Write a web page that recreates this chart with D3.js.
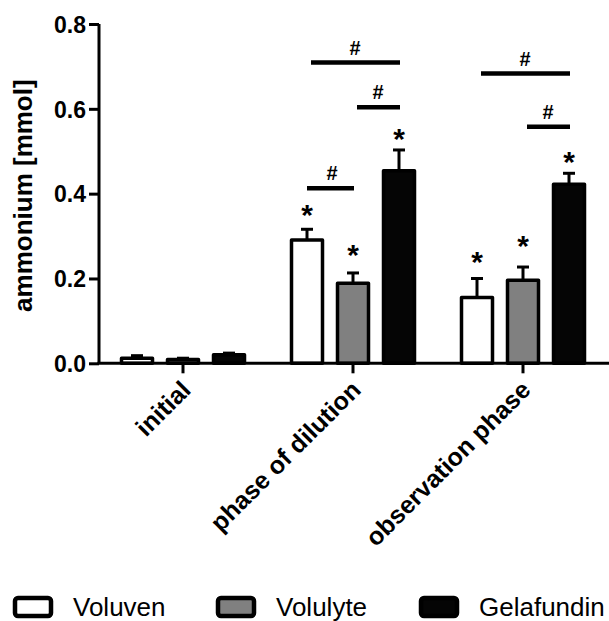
<!DOCTYPE html>
<html>
<head>
<meta charset="utf-8">
<script src="https://cdn.jsdelivr.net/npm/d3@7"></script>
<style>
  body { margin: 0; background: #fff; }
  svg { display: block; font-family: "Liberation Sans", Arial, sans-serif; }
</style>
</head>
<body>
<div id="chart"></div>
<script>
// Data
const categories = ["initial", "phase of dilution", "observation phase"];
const series = ["Voluven", "Volulyte", "Gelafundin"];
const fills = ["#ffffff", "#808080", "#050505"];

const voluven = [0.012, 0.291, 0.155];
const volulyte = [0.009, 0.189, 0.196];
const gelafundin = [0.020, 0.454, 0.422];

const voluvenErr = [0.006, 0.025, 0.045];
const volulyteErr = [0.003, 0.024, 0.031];
const gelafundinErr = [0.004, 0.049, 0.026];

const yTicks = [0, 0.2, 0.4, 0.6, 0.8];

// significance stars: [category, series, value of star centre]
const stars = [
  ["phase of dilution", "Voluven", 0.362],
  ["phase of dilution", "Volulyte", 0.266],
  ["phase of dilution", "Gelafundin", 0.541],
  ["observation phase", "Voluven", 0.251],
  ["observation phase", "Volulyte", 0.288],
  ["observation phase", "Gelafundin", 0.487]
];

// "#" brackets: [category, from series, to series, value]
const brackets = [
  ["phase of dilution", "Voluven", "Gelafundin", 0.709],
  ["phase of dilution", "Volulyte", "Gelafundin", 0.604],
  ["phase of dilution", "Voluven", "Volulyte", 0.413],
  ["observation phase", "Voluven", "Gelafundin", 0.683],
  ["observation phase", "Volulyte", "Gelafundin", 0.558]
];

const values = [voluven, volulyte, gelafundin];
const errors = [voluvenErr, volulyteErr, gelafundinErr];

const W = 609, H = 621;
const svg = d3.select("#chart").append("svg")
  .attr("width", W)
  .attr("height", H);

// scales
const x0 = d3.scaleBand().domain(categories).range([98, 608]);
const x1 = d3.scalePoint().domain(series).range([-46, 46]);
const y = d3.scaleLinear().domain([0, 0.8]).range([363.3, 24]);
const barW = 31;
const cx = (c, s) => x0(c) + x0.bandwidth() / 2 + x1(s);

// flatten bars
const bars = [];
series.forEach((s, si) => {
  categories.forEach((c, ci) => {
    bars.push({ c, s, v: values[si][ci], e: errors[si][ci], fill: fills[si] });
  });
});

// error bars (upper only)
const eg = svg.append("g").attr("stroke", "#000").attr("stroke-width", 3);
eg.selectAll("line.stem")
  .data(bars)
  .join("line")
  .attr("class", "stem")
  .attr("x1", d => cx(d.c, d.s))
  .attr("x2", d => cx(d.c, d.s))
  .attr("y1", d => y(d.v))
  .attr("y2", d => y(d.v + d.e));
eg.selectAll("line.cap")
  .data(bars)
  .join("line")
  .attr("class", "cap")
  .attr("x1", d => cx(d.c, d.s) - 6)
  .attr("x2", d => cx(d.c, d.s) + 6)
  .attr("y1", d => y(d.v + d.e))
  .attr("y2", d => y(d.v + d.e));

// bars
svg.append("g")
  .selectAll("rect")
  .data(bars)
  .join("rect")
  .attr("x", d => cx(d.c, d.s) - barW / 2)
  .attr("y", d => y(d.v))
  .attr("width", barW)
  .attr("height", d => y(0) - y(d.v))
  .attr("fill", d => d.fill)
  .attr("stroke", "#000")
  .attr("stroke-width", 3.5)
  .attr("stroke-linejoin", "round");

// y axis
const yAxis = svg.append("g")
  .attr("transform", "translate(99,0)")
  .call(d3.axisLeft(y).tickValues(yTicks).tickFormat(d3.format(".1f")).tickSize(10).tickPadding(3));
yAxis.select(".domain").attr("stroke-width", 3).attr("d", `M0,${y(0.8)}V${y(0)}`);
yAxis.selectAll(".tick line").attr("stroke-width", 3);
yAxis.selectAll(".tick text")
  .attr("fill", "#000")
  .style("font-size", "23px")
  .style("font-weight", "bold")
  .attr("dy", "0.36em");

// x axis
const xAxis = svg.append("g")
  .attr("transform", `translate(0,${y(0)})`)
  .call(d3.axisBottom(x0).tickSize(10).tickFormat(""));
xAxis.select(".domain").attr("stroke-width", 3).attr("d", `M97.5,0H609`);
xAxis.selectAll(".tick line").attr("stroke-width", 3);

// rotated category labels
svg.append("g")
  .selectAll("text")
  .data(categories)
  .join("text")
  .attr("transform", d => `translate(${x0(d) + x0.bandwidth() / 2 + 3},${y(0) + 22}) rotate(-45)`)
  .attr("text-anchor", "end")
  .attr("dy", "0.35em")
  .style("font-size", "25px")
  .style("font-weight", "bold")
  .text(d => d);

// y label
svg.append("text")
  .attr("transform", `translate(32,${(y(0) + y(0.8)) / 2 + 2}) rotate(-90)`)
  .attr("text-anchor", "middle")
  .style("font-size", "26px")
  .style("font-weight", "bold")
  .text("ammonium [mmol]");

// brackets
svg.append("g")
  .selectAll("line")
  .data(brackets)
  .join("line")
  .attr("x1", d => cx(d[0], d[1]) + (d[2] === "Gelafundin" ? 4 : 0))
  .attr("x2", d => cx(d[0], d[2]) + 1)
  .attr("y1", d => y(d[3]))
  .attr("y2", d => y(d[3]))
  .attr("stroke", "#000")
  .attr("stroke-width", 4.5);
svg.append("g")
  .selectAll("text")
  .data(brackets)
  .join("text")
  .attr("x", d => (cx(d[0], d[1]) + cx(d[0], d[2])) / 2 + 2)
  .attr("y", d => y(d[3]) - 8)
  .attr("text-anchor", "middle")
  .style("font-size", "20px")
  .style("font-weight", "bold")
  .text("#");

// stars
svg.append("g")
  .selectAll("text")
  .data(stars)
  .join("text")
  .attr("x", d => cx(d[0], d[1]))
  .attr("y", d => y(d[2]) + 15)
  .attr("text-anchor", "middle")
  .style("font-size", "30px")
  .style("font-weight", "bold")
  .text("*");

// legend
const legendX = [15, 218, 421];
const lg = svg.append("g")
  .selectAll("g")
  .data(series)
  .join("g")
  .attr("transform", (d, i) => `translate(${legendX[i]},598)`);
lg.append("rect")
  .attr("width", 36)
  .attr("height", 18)
  .attr("rx", 3)
  .attr("fill", (d, i) => fills[i])
  .attr("stroke", "#000")
  .attr("stroke-width", 4.5);
lg.append("text")
  .attr("x", 58)
  .attr("y", 18)
  .style("font-size", "26px")
  .text(d => d);
</script>
</body>
</html>
